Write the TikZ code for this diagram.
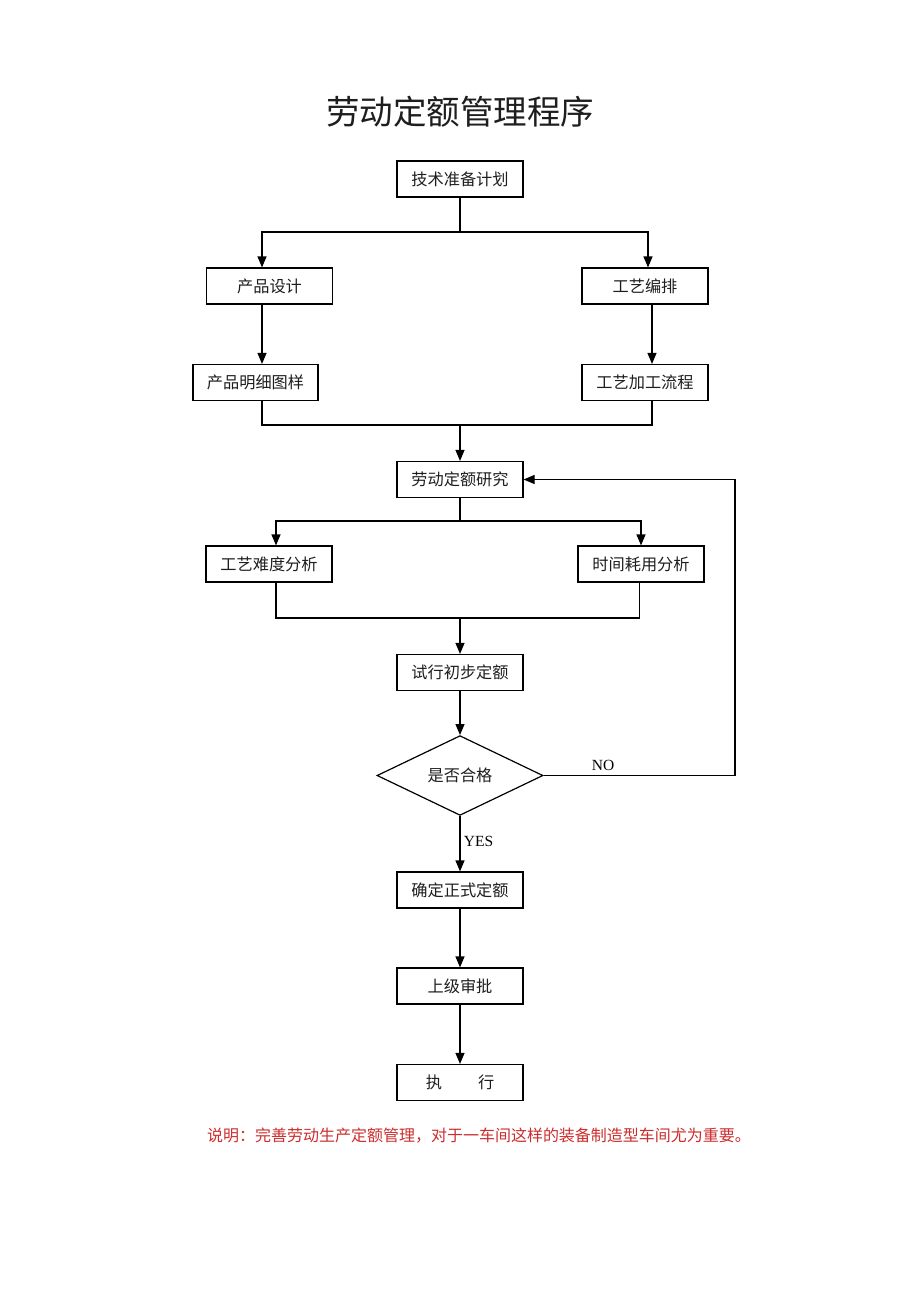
\documentclass[tikz,border=0pt]{standalone}
\usepackage{fontspec}
\newfontfamily\cjk{Noto Sans CJK SC}
\newfontfamily\lat{Liberation Serif}
\usetikzlibrary{arrows.meta,shapes.geometric}
\definecolor{notered}{RGB}{205,45,45}
\definecolor{txt}{RGB}{30,30,30}
\begin{document}
\begin{tikzpicture}[x=1pt,y=-1pt,
  box/.style={draw, line width=1.2pt, rectangle, minimum width=126pt, minimum height=36pt, inner sep=0pt, text=txt, font=\cjk\fontsize{16.2}{16}\selectfont},
  dia/.style={draw, line width=1.2pt, diamond, minimum width=166pt, minimum height=70pt, inner sep=0pt, text=txt, font=\cjk\fontsize{16.2}{16}\selectfont},
  ln/.style={line width=1.2pt},
  arr/.style={line width=1.2pt, -{Triangle[length=11pt,width=9pt]}},
  lbl/.style={font=\lat\fontsize{15.5}{15}\selectfont, inner sep=0pt},
]
\fill[white] (0,0) rectangle (920,1302);
\useasboundingbox (0,0) rectangle (920,1302);

\node[font=\cjk\fontsize{33.5}{34}\selectfont, text=txt] (title) at (460,112) {劳动定额管理程序};

\node[box] (n1) at (460,179) {技术准备计划};
\node[box] (n2) at (269.5,286) {产品设计};
\node[box] (n3) at (645,286) {工艺编排};
\node[box, minimum width=125pt] (n4) at (255.5,382.5) {产品明细图样};
\node[box] (n5) at (645,382.5) {工艺加工流程};
\node[box] (n6) at (460,479.5) {劳动定额研究};
\node[box] (n7) at (269,564) {工艺难度分析};
\node[box] (n8) at (641,564) {时间耗用分析};
\node[box] (n9) at (460,672.5) {试行初步定额};
\node[dia] (d) at (460,775.5) {是否合格};
\node[box] (n10) at (460,890) {确定正式定额};
\node[box] (n11) at (460,986) {上级审批};
\node[box] (n12) at (460,1082.5) {执\hspace{36pt}行\hspace{8pt}};

% branch 1
\coordinate (j1) at (460,232);
\coordinate (xa) at (262,0);
\coordinate (xb) at (648,0);
\coordinate (xc) at (652,0);
\draw[ln] (n1.south) -- (j1);
\draw[arr] (j1) -| (n2.north -| xa);
\draw[arr] (j1) -| (n3.north -| xb);
\draw[arr] (n2.south -| xa) -- (n4.north -| xa);
\draw[arr] (n3.south -| xc) -- (n5.north -| xc);
\coordinate (j2) at (460,425);
\draw[ln] (n4.south -| xa) |- (j2) -| (n5.south -| xc);
\draw[arr] (j2) -- (n6.north);

% branch 2
\coordinate (j3) at (460,521);
\coordinate (xd) at (276,0);
\coordinate (xe) at (641,0);
\coordinate (xf) at (639.5,0);
\draw[ln] (n6.south) -- (j3);
\draw[arr] (j3) -| (n7.north -| xd);
\draw[arr] (j3) -| (n8.north -| xe);
\coordinate (j4) at (460,618);
\draw[ln] (n7.south -| xd) |- (j4) -| (n8.south -| xf);
\draw[arr] (j4) -- (n9.north);

\draw[arr] (n9.south) -- (d.north);

% NO loop
\coordinate (k1) at (735,775.5);
\coordinate (k2) at (735,479.5);
\draw[arr] (d.east) -- (k1) -- (k2) -- (n6.east);
\node[lbl] (no) at (603,765.5) {NO};

\draw[arr] (d.south) -- (n10.north);
\node[lbl] (yes) at (478.5,841) {YES};

\draw[arr] (n10.south) -- (n11.north);
\draw[arr] (n11.south) -- (n12.north);

\node[font=\cjk\fontsize{16.0}{16}\selectfont, text=notered] (note) at (479,1136) {说明：完善劳动生产定额管理，对于一车间这样的装备制造型车间尤为重要。};
\end{tikzpicture}
\end{document}
